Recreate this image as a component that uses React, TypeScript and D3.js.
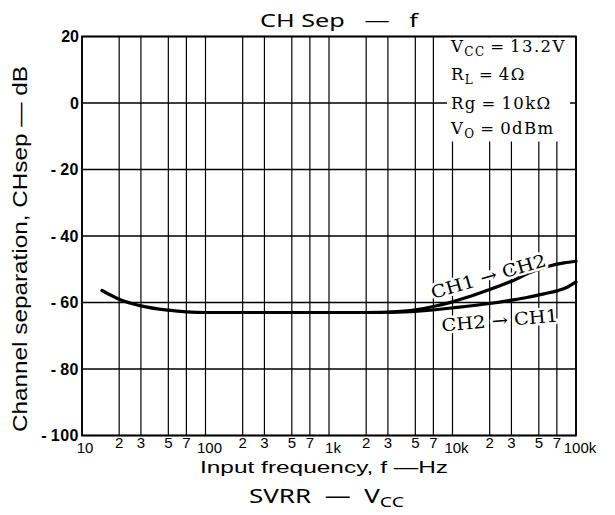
import React from "react";
import * as d3 from "d3";

const yTicks = [20, 0, -20, -40, -60, -80, -100];
const decadeTicks = [10, 100, 1000, 10000, 100000];
const decadeLabels = ["10", "100", "1k", "10k", "100k"];
const minorMults = [2, 3, 5, 7];

// merged low-frequency part (both channels)
const commonFreq = [14.5, 20, 30, 50, 70, 100, 200, 500, 1000, 2000, 3000];
const commonDb = [-56.4, -59, -61, -62.3, -62.8, -63, -63, -63, -63, -63, -62.9];
// CH1 -> CH2
const ch12Freq = [3000, 5000, 7000, 10000, 14000, 20000, 30000, 45000, 60000, 80000, 100000];
const ch12Db = [-62.9, -62.2, -61.2, -59.8, -58.1, -56.1, -53.6, -50.6, -49.1, -48.1, -47.6];
// CH2 -> CH1
const ch21Freq = [3000, 5000, 10000, 20000, 30000, 40000, 55000, 70000, 85000, 100000];
const ch21Db = [-63, -62.7, -61.6, -60.3, -59.3, -58.5, -57.4, -56.5, -55.4, -53.8];

const W = 615;
const H = 515;
const left = 82;
const right = 576;
const top = 36.5;
const bottom = 435.5;

export default function App() {
  const x = d3.scaleLog().domain([10, 100000]).range([left, right]);
  const y = d3.scaleLinear().domain([-100, 20]).range([bottom, top]);

  const minorTicks: number[] = [];
  for (const d of [10, 100, 1000, 10000]) for (const m of minorMults) minorTicks.push(d * m);

  const line = d3
    .line<[number, number]>()
    .x((d) => x(d[0]))
    .y((d) => y(d[1]))
    .curve(d3.curveMonotoneX);

  const common = commonFreq.map((f, i) => [f, commonDb[i]] as [number, number]);
  const ch12 = ch12Freq.map((f, i) => [f, ch12Db[i]] as [number, number]);
  const ch21 = ch21Freq.map((f, i) => [f, ch21Db[i]] as [number, number]);

  const sans = "'Liberation Sans', Arial, sans-serif";
  const title = "'Noto Sans', 'Open Sans', sans-serif";
  const serif = "'DejaVu Serif', serif";
  const halo = { paintOrder: "stroke" as const, stroke: "#fff", strokeWidth: 5, strokeLinejoin: "round" as const };
  const yMid = 249;

  return (
    <svg width={W} height={H} style={{ position: "absolute", left: 0, top: 0, background: "#fff" }}>
      <rect x={0} y={0} width={W} height={H} fill="#fff" />
      {/* grid */}
      {[...decadeTicks, ...minorTicks].map((t) => (
        <line key={"v" + t} x1={x(t)} x2={x(t)} y1={top} y2={bottom} stroke="#000" strokeWidth={1.2} />
      ))}
      {yTicks.map((t) => (
        <line key={"h" + t} x1={left} x2={right} y1={y(t)} y2={y(t)} stroke="#000" strokeWidth={1.4} />
      ))}
      {/* annotation background */}
      <rect x={447} y={top + 1} width={right - 447 - 6} height={104} fill="#fff" />
      <rect x={left} y={top} width={right - left} height={bottom - top} fill="none" stroke="#000" strokeWidth={1.8} />

      {/* y tick labels */}
      {yTicks.map((t) => (
        <text key={"yl" + t} x={left - 3} y={y(t) + 5.5} textAnchor="end" fontFamily={sans} fontSize={16} fontWeight="bold" letterSpacing={t < 0 ? 0.5 : 0} fill="#000">
          {t < 0 ? "-\u2009" + Math.abs(t) : String(t)}
        </text>
      ))}
      {/* x tick labels */}
      {minorTicks.map((t) => (
        <text key={"xm" + t} x={x(t)} y={448} textAnchor="middle" fontFamily={sans} fontSize={15} fill="#000">
          {String(Math.round(t / Math.pow(10, Math.floor(Math.log10(t)))))}
        </text>
      ))}
      {decadeTicks.map((t, i) => (
        <text key={"xd" + t} x={x(t) + (i === 0 ? 3 : 4)} y={452.5} textAnchor="middle" fontFamily={sans} fontSize={15} fill="#000">
          {decadeLabels[i]}
        </text>
      ))}

      {/* curves */}
      <path d={line(common) || ""} fill="none" stroke="#000" strokeWidth={3.2} strokeLinecap="round" />
      <path d={line(ch12) || ""} fill="none" stroke="#000" strokeWidth={3.2} strokeLinecap="round" />
      <path d={line(ch21) || ""} fill="none" stroke="#000" strokeWidth={3.2} strokeLinecap="round" />

      {/* curve labels */}
      <text x={433} y={299} transform="rotate(-16.3 433 299)" fontFamily={serif} fontSize={17.5} fill="#000" style={halo} textLength={119} lengthAdjust="spacingAndGlyphs">
        CH1 → CH2
      </text>
      <text x={442} y={331.5} transform="rotate(-4.9 442 331.5)" fontFamily={serif} fontSize={17.5} fill="#000" style={halo} textLength={117} lengthAdjust="spacingAndGlyphs">
        CH2 → CH1
      </text>

      {/* annotation */}
      <g fontFamily={serif} fontSize={16.5} fill="#000" letterSpacing={1.4}>
        <text x={451} y={52}>
          V<tspan fontSize={12} dy={4}>CC</tspan>
          <tspan dy={-4}>{"\u2009=\u200913.2V"}</tspan>
        </text>
        <text x={451} y={80}>
          R<tspan fontSize={12} dy={4}>L</tspan>
          <tspan dy={-4}>{"\u2009=\u20094Ω"}</tspan>
        </text>
        <text x={451} y={108.5} style={halo}>
          {"Rg\u2009=\u200910kΩ"}
        </text>
        <text x={451} y={134}>
          V<tspan fontSize={12} dy={4}>O</tspan>
          <tspan dy={-4}>{"\u2009=\u20090dBm"}</tspan>
        </text>
      </g>

      {/* titles */}
      <text x={260} y={26.5} fontFamily={title} fontSize={18} fill="#000" style={{ whiteSpace: "pre" }} textLength={158} lengthAdjust="spacingAndGlyphs">
        {"CH Sep   —   f"}
      </text>
      <text x={200} y={472.5} fontFamily={sans} fontSize={17} fill="#000" textLength={248} lengthAdjust="spacingAndGlyphs">
        Input frequency, f —Hz
      </text>
      <text x={27} y={yMid} transform={`rotate(-90 27 ${yMid})`} textAnchor="middle" fontFamily={sans} fontSize={21} fill="#000" textLength={366} lengthAdjust="spacingAndGlyphs">
        Channel separation, CHsep — dB
      </text>
      <text x={249} y={503} fontFamily={title} fontSize={20} fill="#000" style={{ whiteSpace: "pre" }} textLength={155} lengthAdjust="spacingAndGlyphs">
        SVRR  —  V<tspan fontSize={15} dy={4}>CC</tspan>
      </text>
    </svg>
  );
}
